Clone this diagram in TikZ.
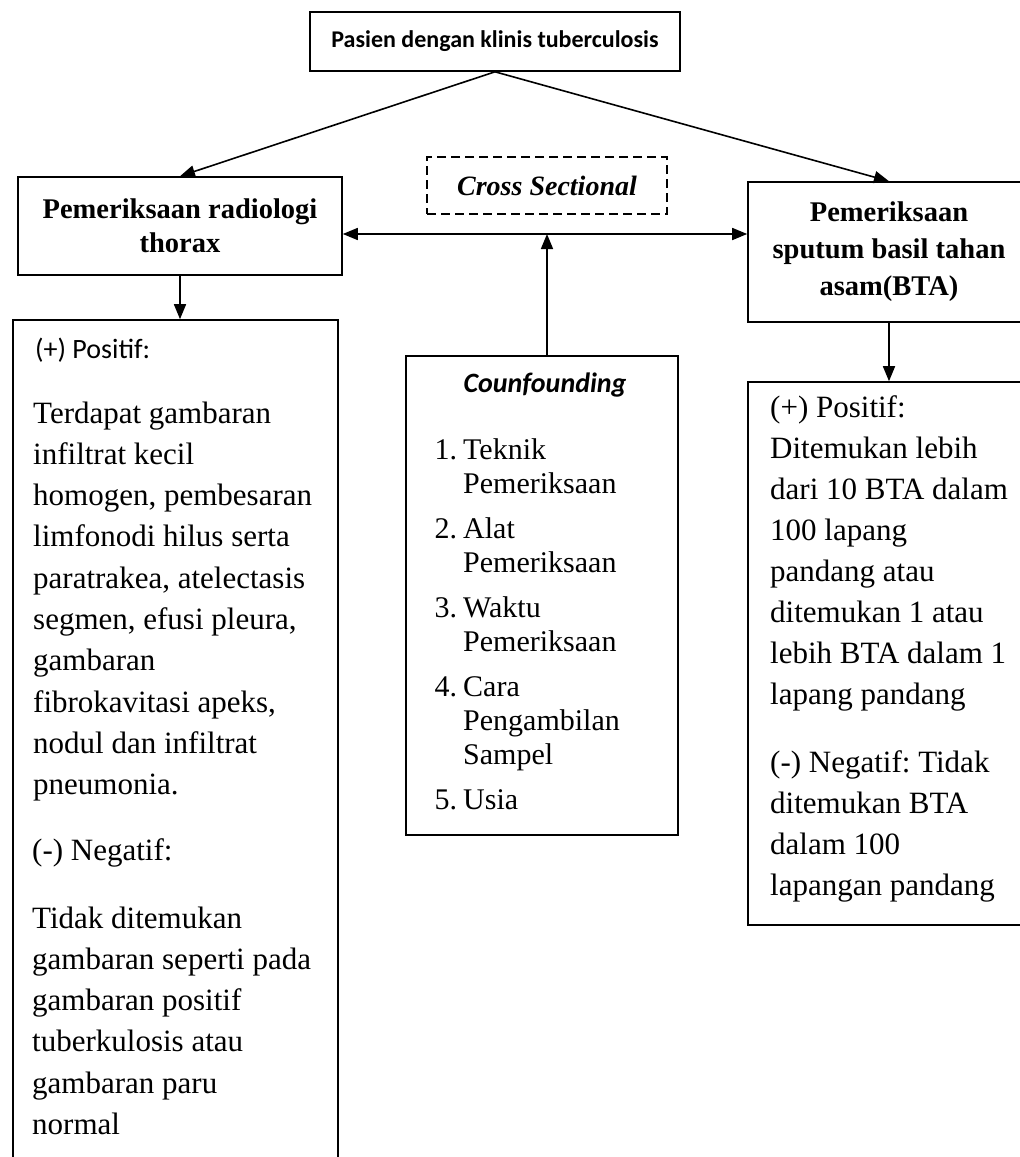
\documentclass[tikz,border=0pt]{standalone}
\usepackage{fontspec}
\setmainfont{Liberation Serif}
\newfontfamily\calibri{Carlito}
\usetikzlibrary{arrows.meta}
\newcommand\itm[1]{\makebox[27pt][r]{#1}\hspace{6pt}}
\newcommand\cont{\hspace*{33pt}}
\frenchspacing
\begin{document}
\begin{tikzpicture}[x=1pt,y=-1pt,
  box/.style={draw, line width=1.6pt, inner sep=0pt},
  dbox/.style={draw, line width=1.6pt, dash pattern=on 9pt off 5pt, inner sep=0pt},
  txt/.style={inner sep=0pt, anchor=base west},
  conn/.style={line width=1.6pt, -{Triangle[length=15pt,width=12pt]}},
  conn2/.style={line width=1.6pt, {Triangle[length=15pt,width=12pt]}-{Triangle[length=15pt,width=12pt]}},
]
\useasboundingbox[fill=white] (0,0) rectangle (1020,1157);

% boxes
\node[box, minimum width=370pt, minimum height=59pt,
      font=\calibri\bfseries\fontsize{24}{28}\selectfont] (top) at (495,41.5)
      {Pasien dengan klinis tuberculosis};
\node[box, minimum width=324pt, minimum height=98pt, align=center,
      font=\bfseries\fontsize{28.5}{34}\selectfont] (lhead) at (180,226)
      {Pemeriksaan radiologi\\thorax};
\node[dbox, minimum width=240pt, minimum height=57pt,
      font=\bfseries\itshape\fontsize{28}{32}\selectfont] (cross) at (547,185.5)
      {Cross Sectional};
\node[box, minimum width=282pt, minimum height=140pt, align=center,
      font=\bfseries\fontsize{28.5}{37}\selectfont] (rhead) at (889,252)
      {Pemeriksaan\\sputum basil tahan\\asam(BTA)};
\node[box, minimum width=325pt, minimum height=850pt] (lbot) at (175.5,745) {};
\node[box, minimum width=272pt, minimum height=479pt] (conf) at (542,595.5) {};
\node[box, minimum width=282pt, minimum height=543pt] (rbot) at (889,653.5) {};

% connectors
\coordinate (hl) at (547,234);
\draw[conn] (top.south) -- (lhead.north);
\draw[conn] (top.south) -- (rhead.north);
\draw[conn2] (lhead.east |- hl) -- (rhead.west |- hl);
\draw[conn] (hl |- conf.north) -- (hl);
\draw[conn] (lhead.south) -- (lhead.south |- lbot.north);
\draw[conn] (rhead.south) -- (rhead.south |- rbot.north);

% left box text
\node[txt] (lpos) at (35,358) {\calibri\fontsize{28}{34}\selectfont (+) Positif:};
\node[txt] (ltext) at (33,423) {\parbox[t]{300pt}{\fontsize{31}{41.3}\selectfont
  Terdapat gambaran\\infiltrat kecil\\homogen, pembesaran\\limfonodi hilus serta\\paratrakea, atelectasis\\segmen, efusi pleura,\\gambaran\\fibrokavitasi apeks,\\nodul dan infiltrat\\pneumonia.}};
\node[txt] (lneg) at (32,860) {\fontsize{31}{41.3}\selectfont (-) Negatif:};
\node[txt] (lnegt) at (32,928) {\parbox[t]{300pt}{\fontsize{31}{41.3}\selectfont
  Tidak ditemukan\\gambaran seperti pada\\gambaran positif\\tuberkulosis atau\\gambaran paru\\normal}};

% confounding text
\node[inner sep=0pt, anchor=base, font=\calibri\bfseries\itshape\fontsize{28}{32}\selectfont] (ctitle) at (545,392) {Counfounding};
\node[txt] (clist) at (430,459) {\parbox[t]{240pt}{\fontsize{30}{34}\selectfont
  \itm{1.}Teknik\\\cont Pemeriksaan\\[11pt]
  \itm{2.}Alat\\\cont Pemeriksaan\\[11pt]
  \itm{3.}Waktu\\\cont Pemeriksaan\\[11pt]
  \itm{4.}Cara\\\cont Pengambilan\\\cont Sampel\\[11pt]
  \itm{5.}Usia}};

% right box text
\node[txt] (rpos) at (770,417) {\parbox[t]{245pt}{\fontsize{31}{41}\selectfont
  (+) Positif:\\Ditemukan lebih\\dari 10 BTA dalam\\100 lapang\\pandang atau\\ditemukan 1 atau\\lebih BTA dalam 1\\lapang pandang}};
\node[txt] (rneg) at (770,772) {\parbox[t]{245pt}{\fontsize{31}{41}\selectfont
  (-) Negatif: Tidak\\ditemukan BTA\\dalam 100\\lapangan pandang}};
\end{tikzpicture}
\end{document}
